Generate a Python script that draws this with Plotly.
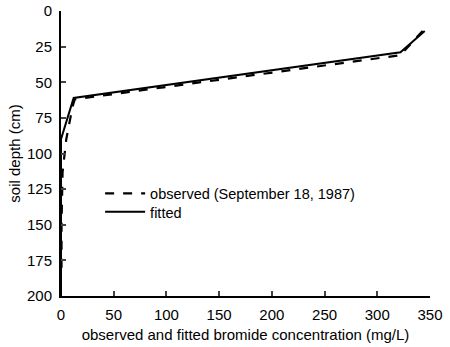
import plotly.graph_objects as go

obs_x = [343, 322, 13, 11, 5, 1.5, 0.5, 0.5]
obs_y = [14, 31, 62, 67, 90, 113, 150, 185]
fit_x = [345, 322, 12, 0, 0]
fit_y = [14, 29, 61, 90, 200]

x_ticks = [0, 50, 100, 150, 200, 250, 300, 350]
y_ticks = [0, 25, 50, 75, 100, 125, 150, 175, 200]

FAM = "Liberation Sans, Arial, sans-serif"
tick_font = dict(family=FAM, size=15, color="black")
title_font = dict(family=FAM, size=15, color="black")
leg_font = dict(family=FAM, size=14.5, color="black")

fig = go.Figure()
fig.add_trace(go.Scatter(x=obs_x, y=obs_y, mode="lines", name="observed (September 18, 1987)",
                         line=dict(color="black", width=2.2, dash="dash"), legend="legend"))
fig.add_trace(go.Scatter(x=fit_x, y=fit_y, mode="lines", name="fitted",
                         line=dict(color="black", width=2), legend="legend2"))

fig.update_layout(
    width=450, height=347,
    margin=dict(l=61, r=20, t=11, b=51),
    plot_bgcolor="white", paper_bgcolor="white",
    font=tick_font,
    showlegend=True,
    legend=dict(x=0.106, y=0.36, xanchor="left", yanchor="middle", bgcolor="rgba(0,0,0,0)",
                font=leg_font, itemwidth=40),
    legend2=dict(x=0.106, y=0.295, xanchor="left", yanchor="middle", bgcolor="rgba(0,0,0,0)",
                 font=leg_font, itemwidth=40),
    xaxis=dict(range=[0, 350], tickvals=x_ticks, ticks="inside", ticklen=5, tickwidth=2,
               showline=True, linecolor="black", linewidth=2, showgrid=False, zeroline=False,
               ticklabelstandoff=4, automargin=False,
               title=dict(text="observed and fitted bromide concentration (mg/L)", standoff=7,
                          font=title_font),
               tickfont=tick_font),
    yaxis=dict(range=[200, 0], tickvals=y_ticks, ticks="inside", ticklen=5, tickwidth=2,
               showline=True, linecolor="black", linewidth=2, showgrid=False, zeroline=False,
               ticklabelstandoff=4, automargin=False,
               title=dict(text="soil depth (cm)", standoff=3, font=title_font),
               tickfont=tick_font),
)
fig.write_html("out.html")
